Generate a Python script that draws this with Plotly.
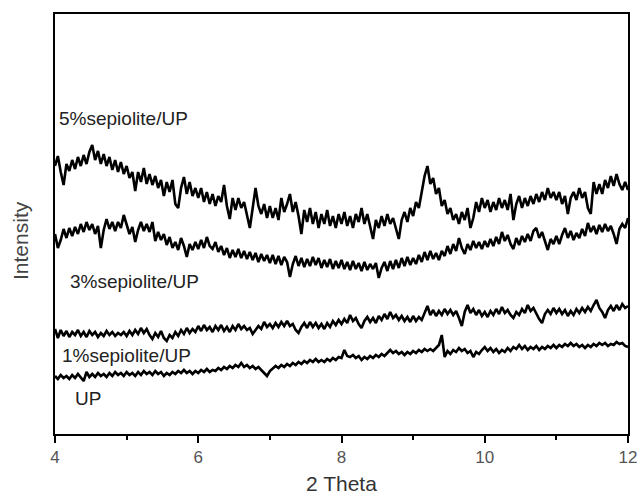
import plotly.graph_objects as go

# 2-theta scan grid (degrees), step 0.04
two_theta = [round(4 + 0.04 * i, 2) for i in range(201)]

sep5 = [
    268, 278, 262, 249, 270, 263, 274, 265, 277, 268, 279, 270, 282, 289, 274, 283, 270, 280, 268, 277, 264, 274, 262, 272, 260,
    268, 256, 262, 243, 262, 252, 266, 250, 260, 249, 258, 246, 254, 238, 252, 242, 254, 230, 226, 246, 257, 240, 252, 238, 246,
    236, 246, 232, 242, 230, 240, 228, 238, 232, 249, 228, 215, 236, 224, 236, 226, 232, 218, 206, 226, 246, 228, 220, 230, 216,
    228, 216, 226, 214, 236, 222, 230, 240, 222, 232, 218, 200, 224, 212, 226, 210, 222, 206, 220, 210, 224, 208, 218, 206, 220,
    210, 222, 208, 218, 206, 220, 212, 226, 210, 220, 206, 195, 214, 206, 218, 208, 220, 210, 216, 204, 195, 214, 222, 212, 226,
    218, 232, 226, 242, 258, 268, 250, 256, 240, 246, 228, 234, 220, 226, 214, 220, 210, 222, 214, 226, 206, 216, 232, 222, 236,
    226, 234, 222, 232, 224, 236, 226, 234, 224, 240, 214, 230, 238, 226, 236, 228, 238, 230, 240, 232, 242, 234, 246, 236, 242,
    234, 242, 230, 238, 220, 236, 242, 234, 246, 236, 242, 226, 220, 252, 240, 250, 240, 254, 246, 258, 248, 260, 250, 244, 252,
    244,
]

sep3 = [
    200, 186, 194, 205, 196, 206, 198, 207, 200, 210, 202, 212, 204, 210, 200, 208, 186, 204, 215, 205, 212, 203, 212, 206, 219,
    208, 200, 207, 192, 204, 212, 203, 210, 202, 212, 193, 202, 194, 200, 189, 197, 186, 192, 184, 196, 188, 177, 190, 184, 192,
    185, 194, 186, 197, 188, 185, 192, 182, 188, 179, 186, 176, 184, 177, 185, 176, 183, 175, 182, 174, 181, 172, 180, 173, 179,
    171, 179, 170, 178, 169, 177, 172, 157, 170, 178, 168, 176, 167, 175, 168, 177, 169, 176, 166, 174, 167, 175, 165, 173, 166,
    174, 165, 172, 164, 173, 165, 171, 163, 172, 164, 170, 165, 171, 156, 166, 172, 163, 173, 165, 174, 166, 176, 168, 177, 169,
    176, 170, 179, 172, 182, 174, 183, 175, 181, 174, 183, 178, 188, 180, 190, 183, 196, 186, 180, 190, 184, 193, 186, 192, 185,
    193, 187, 195, 188, 197, 190, 202, 193, 199, 190, 185, 196, 189, 198, 192, 200, 193, 203, 206, 196, 202, 193, 184, 195, 190,
    198, 190, 199, 206, 196, 203, 194, 201, 196, 205, 198, 211, 202, 208, 200, 209, 202, 210, 203, 208, 200, 190, 205, 210, 206,
    216,
]

sep1 = [
    105, 96, 104, 98, 103, 97, 102, 99, 104, 98, 102, 97, 103, 99, 102, 97, 101, 98, 103, 99, 102, 98, 101, 99, 102,
    98, 103, 99, 104, 100, 106, 101, 105, 99, 95, 101, 97, 103, 96, 93, 99, 96, 102, 98, 104, 100, 106, 101, 105, 102,
    108, 103, 109, 104, 107, 102, 108, 104, 109, 103, 107, 102, 108, 104, 110, 105, 108, 104, 106, 100, 104, 108, 105, 112, 107,
    110, 106, 111, 107, 112, 108, 113, 108, 110, 104, 101, 107, 111, 106, 112, 107, 111, 106, 110, 105, 111, 107, 113, 109, 114,
    110, 115, 111, 119, 113, 116, 110, 106, 113, 117, 112, 116, 111, 118, 114, 120, 115, 122, 116, 119, 114, 118, 113, 117, 112,
    118, 113, 117, 114, 122, 128, 119, 124, 118, 123, 119, 125, 120, 124, 119, 123, 116, 108, 122, 129, 121, 125, 119, 124, 118,
    122, 117, 123, 119, 125, 120, 127, 121, 124, 119, 116, 122, 119, 125, 121, 129, 123, 126, 120, 115, 111, 120, 124, 120, 126,
    121, 125, 120, 124, 118, 123, 119, 125, 121, 126, 122, 127, 123, 129, 134, 126, 122, 116, 124, 128, 123, 129, 124, 130, 126,
    128,
]

up = [
    58, 55, 59, 56, 58, 55, 59, 56, 60, 57, 53, 62, 57, 60, 57, 61, 58, 60, 57, 61, 58, 62, 59, 61, 58,
    62, 59, 61, 58, 62, 59, 63, 60, 62, 59, 63, 60, 62, 58, 61, 59, 62, 60, 63, 61, 64, 61, 63, 60, 63,
    61, 64, 62, 65, 62, 64, 63, 66, 64, 67, 65, 68, 66, 69, 67, 71, 67, 69, 66, 68, 65, 67, 64, 62, 58,
    63, 66, 68, 66, 69, 67, 70, 68, 71, 69, 72, 70, 73, 71, 74, 72, 75, 72, 74, 72, 75, 73, 76, 74, 77,
    76, 84, 78, 77, 79, 76, 78, 74, 77, 75, 78, 76, 79, 77, 80, 78, 81, 84, 81, 83, 80, 82, 79, 82, 80,
    83, 81, 84, 82, 85, 83, 85, 83, 86, 89, 99, 77, 83, 80, 84, 82, 86, 83, 85, 81, 83, 77, 82, 80, 84,
    87, 83, 86, 82, 85, 81, 84, 82, 86, 83, 87, 85, 89, 85, 88, 84, 87, 85, 88, 84, 87, 85, 88, 86, 89,
    86, 89, 87, 90, 88, 91, 88, 90, 87, 89, 86, 89, 87, 90, 88, 91, 89, 91, 88, 90, 89, 92, 90, 91, 88,
    87,
]

series_names = ["5%sepiolite/UP", "3%sepiolite/UP", "1%sepiolite/UP", "UP"]
series_values = [sep5, sep3, sep1, up]
label_x = [4.03, 4.18, 4.07, 4.25]
label_y = [316, 153, 79, 36]

x_ticks = [4, 6, 8, 10, 12]
x_minor = [5, 7, 9, 11]

FONT = "Liberation Sans, Arial, sans-serif"

fig = go.Figure()
for name, vals in zip(series_names, series_values):
    fig.add_trace(go.Scatter(
        x=two_theta, y=vals, mode="lines", name=name,
        line=dict(color="black", width=2.6), showlegend=False,
    ))

for name, lx, ly in zip(series_names, label_x, label_y):
    fig.add_annotation(
        x=lx, y=ly, text=name, showarrow=False,
        xanchor="left", yanchor="middle",
        font=dict(family=FONT, size=19, color="#222"),
    )

# axis titles
fig.add_annotation(
    xref="paper", yref="paper", x=0.5, y=-0.117, text="2 Theta", showarrow=False,
    xanchor="center", yanchor="middle", font=dict(family=FONT, size=21, color="#333"),
)
fig.add_annotation(
    xref="paper", yref="paper", x=-0.059, y=0.46, text="Intensity", showarrow=False,
    textangle=-90, xanchor="center", yanchor="middle",
    font=dict(family=FONT, size=21, color="#444"),
)

fig.update_layout(
    width=638, height=495,
    margin=dict(l=55, r=10, t=14, b=61, autoexpand=False),
    paper_bgcolor="white", plot_bgcolor="white",
    font=dict(family=FONT, color="#444"),
)
fig.update_xaxes(
    range=[4, 12], tickvals=x_ticks, ticktext=[str(t) for t in x_ticks],
    ticks="outside", ticklen=7, tickwidth=1.5, tickcolor="black",
    minor=dict(tickvals=x_minor, ticks="outside", ticklen=4, tickwidth=1.5, tickcolor="black"),
    showline=True, linecolor="black", linewidth=1.5, mirror=True,
    showgrid=False, zeroline=False, automargin=False,
    ticklabeloverflow="allow",
    tickfont=dict(size=17, color="#555"),
)
fig.update_yaxes(
    range=[0, 420], showticklabels=False, ticks="",
    showline=True, linecolor="black", linewidth=1.5, mirror=True,
    showgrid=False, zeroline=False, automargin=False,
)

# remove the default page margin so the 638x495 figure fills the window exactly
fig.write_html(
    "out.html",
    config={"displayModeBar": False},
    post_script="document.body.style.margin='0';document.body.style.overflow='hidden';",
)
